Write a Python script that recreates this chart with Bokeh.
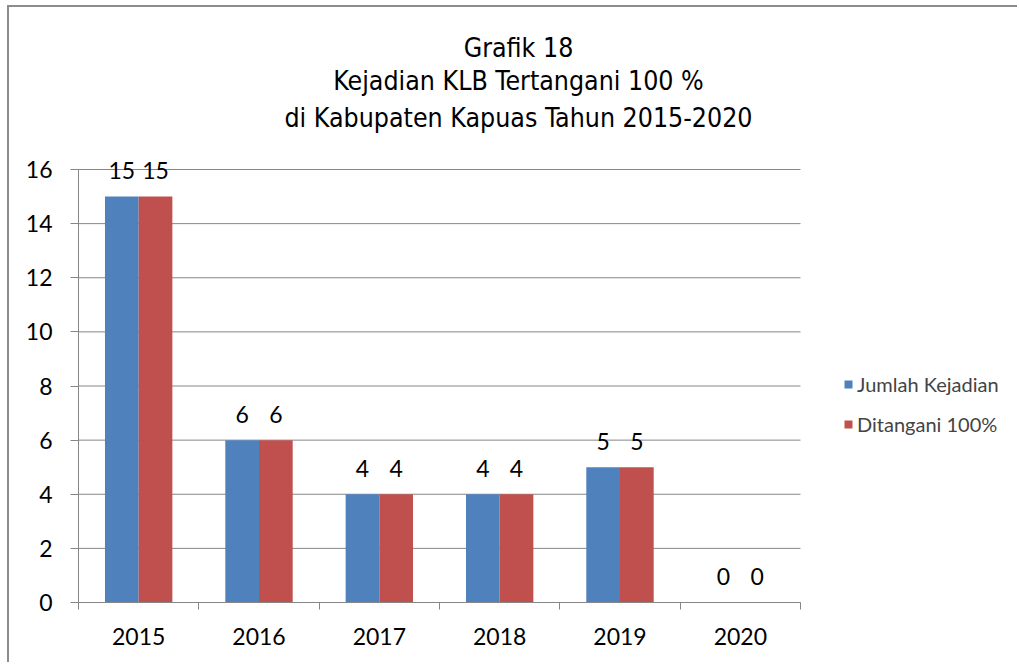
from bokeh.plotting import figure
from bokeh.models import (ColumnDataSource, FixedTicker, Legend, LegendItem, Label, Range1d)
from bokeh.core.properties import value
from bokeh.embed import file_html
from bokeh.resources import INLINE

years = ["2015", "2016", "2017", "2018", "2019", "2020"]
jumlah = [15, 6, 4, 4, 5, 0]
ditangani = [15, 6, 4, 4, 5, 0]
series_names = ["Jumlah Kejadian", "Ditangani 100%"]
title_lines = ["Grafik 18", "Kejadian KLB Tertangani 100 %", "di Kabupaten Kapuas Tahun 2015-2020"]
y_ticks = [0, 2, 4, 6, 8, 10, 12, 14, 16]

BLUE = "#4F81BD"
RED = "#C0504D"
GRID = "#868686"
FONT = "Lato"
TFONT = "DejaVu Sans Condensed"

# layout (pixels, relative to the figure's top-left)
W, H = 1010, 657
LEFT, BOTTOM = 69, 62
PLOT_W, PLOT_H = 722, 433      # size of the category / value area
n = len(years)
ymax = max(y_ticks)
px_x = PLOT_W / n
px_y = PLOT_H / ymax
x_end = (W - LEFT) / px_x       # frame spans to the right edge (legend lives there)
y_end = (H - BOTTOM) / px_y     # frame spans to the top edge (title lives there)

p = figure(width=W, height=H, output_backend="svg", toolbar_location=None,
           x_range=Range1d(0, x_end), y_range=Range1d(0, y_end),
           min_border_left=LEFT, min_border_right=0, min_border_top=0, min_border_bottom=BOTTOM)
p.styles = {"margin-left": "7px", "margin-top": "5px",
            "border-top": "2px solid #8c8c8c", "border-left": "2px solid #8c8c8c"}
p.outline_line_color = None
p.background_fill_color = "white"
p.xgrid.grid_line_color = None
p.ygrid.grid_line_color = None

# horizontal gridlines limited to the category area
p.segment(x0=[0] * len(y_ticks), x1=[n] * len(y_ticks), y0=y_ticks, y1=y_ticks,
          line_color=GRID, line_width=1)

centers = [i + 0.5 for i in range(n)]
bw = 0.28
src1 = ColumnDataSource(dict(x=[c - bw / 2 for c in centers], top=jumlah, lab=[str(v) for v in jumlah]))
src2 = ColumnDataSource(dict(x=[c + bw / 2 for c in centers], top=ditangani, lab=[str(v) for v in ditangani]))

r1 = p.vbar(x="x", top="top", bottom=0, width=bw, source=src1, fill_color=BLUE, line_color=None)
r2 = p.vbar(x="x", top="top", bottom=0, width=bw, source=src2, fill_color=RED, line_color=None)

for s in (src1, src2):
    p.text(x="x", y="top", text="lab", source=s, text_align="center", text_baseline="alphabetic",
           y_offset=-26, text_font=value(FONT), text_font_size="23px", text_color="black")

# axes
p.xaxis.bounds = (0, n)
p.xaxis.ticker = FixedTicker(ticks=centers, minor_ticks=list(range(n + 1)))
p.xaxis.major_label_overrides = {c: y for c, y in zip(centers, years)}
p.xaxis.major_tick_out = 0
p.xaxis.major_tick_in = 0
p.xaxis.minor_tick_out = 7
p.xaxis.minor_tick_in = 0
p.xaxis.minor_tick_line_color = GRID
p.xaxis.axis_line_color = GRID
p.xaxis.major_label_standoff = 18
p.xaxis.major_label_text_font = FONT
p.xaxis.major_label_text_font_size = "23px"
p.xaxis.major_label_text_color = "black"

p.yaxis.bounds = (0, ymax)
p.yaxis.ticker = FixedTicker(ticks=y_ticks)
p.yaxis.major_tick_out = 8
p.yaxis.major_tick_in = 0
p.yaxis.minor_tick_out = 0
p.yaxis.minor_tick_in = 0
p.yaxis.major_tick_line_color = GRID
p.yaxis.axis_line_color = GRID
p.yaxis.major_label_standoff = 18
p.yaxis.major_label_text_font = FONT
p.yaxis.major_label_text_font_size = "23px"
p.yaxis.major_label_text_color = "black"

legend = Legend(items=[LegendItem(label=series_names[0], renderers=[r1]),
                       LegendItem(label=series_names[1], renderers=[r2])],
                location=(765, 166), orientation="vertical")
legend.border_line_color = None
legend.background_fill_alpha = 0
legend.padding = 0
legend.margin = 0
legend.spacing = 16
legend.glyph_width = 10
legend.glyph_height = 10
legend.label_standoff = 4
legend.label_text_font = FONT
legend.label_text_font_size = "20px"
legend.label_height = 20
p.add_layout(legend, "center")

# title block: three centred lines in the space above the value area
TITLE_CX = 440                  # px right of the value axis
TITLE_CY = [40, 73, 110]        # px below the figure top (line centres)
for txt, cy in zip(title_lines, TITLE_CY):
    p.add_layout(Label(x=TITLE_CX / px_x, y=(H - BOTTOM - cy) / px_y, text=txt,
                       text_align="center", text_baseline="middle", text_font=TFONT,
                       text_font_size="26.5px", text_font_style="normal", text_color="black"))

open("out.html", "w").write(file_html(p, INLINE))
